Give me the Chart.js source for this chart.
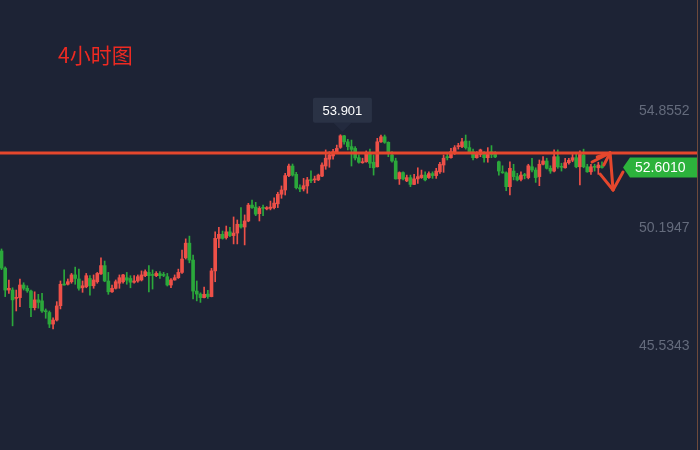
<!DOCTYPE html>
<html><head><meta charset="utf-8">
<script src="https://cdn.jsdelivr.net/npm/chart.js@4.4.1/dist/chart.umd.min.js"></script>
<style>html,body{margin:0;padding:0;background:#1d2335;}canvas{display:block}</style>
</head><body>
<canvas id="c" width="700" height="450"></canvas>
<script>
const titleText = '4小时图';
const yTicks = [45.5343, 50.1947, 54.8552];
const levelLine = 53.18;
const opens = [
49.29,48.61,47.74,47.74,47.41,47.44,47.94,47.81,47.70,47.04,
47.35,47.31,46.91,46.85,46.39,46.55,47.12,47.97,47.97,48.07,
48.34,48.18,47.83,47.87,48.20,47.91,48.07,48.38,48.71,48.10,
47.67,47.81,48.01,48.07,48.23,48.20,48.05,48.10,48.14,48.31,
48.44,48.36,48.31,48.39,48.36,48.27,47.94,48.14,48.23,48.44,
49.02,49.60,48.93,47.70,47.58,47.44,47.58,47.48,48.50,49.79,
49.95,49.82,50.05,49.90,50.00,50.35,50.24,50.48,51.11,51.03,
50.77,51.01,50.96,50.98,51.01,51.16,51.54,51.71,52.28,52.66,
52.33,51.80,51.75,51.87,52.11,52.11,52.11,52.26,52.66,52.93,
53.06,53.19,53.40,53.86,53.62,53.43,53.36,52.99,52.79,52.83,
53.20,52.81,52.63,53.62,53.82,53.60,53.10,52.86,52.15,52.40,
52.07,52.20,51.93,52.15,52.20,52.30,52.20,52.36,52.28,52.43,
52.70,53.03,52.99,53.22,53.43,53.43,53.65,53.39,53.23,52.99,
53.12,53.12,52.99,53.23,53.12,52.83,52.43,52.39,51.84,52.46,
52.24,52.13,52.30,52.20,52.63,52.50,52.24,52.73,52.86,52.57,
52.46,53.03,52.63,52.59,52.79,52.89,52.99,52.63,53.10,52.63,
52.43,52.63,52.59,52.67];
const closes = [
48.61,47.74,47.81,47.35,47.44,47.94,47.81,47.71,47.04,47.35,
47.25,46.91,46.88,46.39,46.55,47.11,47.97,47.94,48.07,48.34,
48.20,47.81,47.91,48.31,47.91,48.14,48.40,48.71,48.10,47.67,
47.81,48.07,48.23,48.34,48.13,48.05,48.10,48.27,48.34,48.47,
48.31,48.32,48.40,48.31,48.32,47.94,48.14,48.23,48.44,48.97,
49.60,48.93,47.70,47.58,47.44,47.57,47.48,48.50,49.79,49.95,
49.79,50.05,49.90,50.00,50.35,50.24,50.48,51.11,51.01,50.75,
50.98,50.98,51.01,51.03,51.19,51.54,51.71,52.28,52.66,52.30,
51.80,51.75,51.88,52.11,52.08,52.13,52.30,52.70,52.97,53.10,
53.23,53.36,53.86,53.62,53.43,53.32,52.98,52.81,52.83,53.20,
52.77,52.59,53.62,53.82,53.60,53.23,52.86,52.15,52.40,52.15,
52.20,51.93,52.15,52.24,52.30,52.11,52.36,52.28,52.46,52.73,
52.97,52.99,53.23,53.39,53.47,53.62,53.39,53.23,52.99,53.12,
53.30,52.99,53.12,53.12,53.02,52.46,52.39,51.84,52.57,52.24,
52.11,52.30,52.28,52.67,52.50,52.20,52.73,52.86,52.57,52.46,
53.03,52.63,52.61,52.79,52.89,52.99,52.63,53.12,52.63,52.43,
52.63,52.61,52.70,52.601];
const highs = [
49.37,48.66,48.14,47.83,47.74,48.18,48.03,47.91,47.74,47.67,
47.57,47.61,46.99,46.91,46.64,47.28,48.10,48.54,48.18,48.40,
48.65,48.57,48.10,48.40,48.31,48.34,48.44,49.02,48.89,48.44,
47.94,48.14,48.34,48.36,48.44,48.31,48.31,48.34,48.50,48.54,
48.71,48.54,48.47,48.47,48.44,48.40,48.20,48.34,48.57,49.33,
49.77,49.88,49.13,48.10,47.63,47.86,47.73,48.60,50.05,50.23,
50.08,50.28,50.23,50.64,50.52,51.01,50.72,51.18,51.31,51.22,
51.05,51.11,51.05,51.27,51.40,51.62,51.87,52.37,52.74,52.74,
52.41,51.91,52.17,52.21,52.47,52.26,52.34,52.79,53.30,53.23,
53.32,53.49,53.901,53.88,53.72,53.69,53.43,53.10,52.97,53.26,
53.33,53.10,53.76,53.89,53.89,53.62,53.23,52.97,52.43,52.43,
52.30,52.30,52.33,52.59,52.50,52.43,52.43,52.43,52.57,52.81,
53.10,53.16,53.36,53.47,53.56,53.76,53.89,53.65,53.33,53.23,
53.33,53.23,53.39,53.47,53.23,52.86,52.67,52.43,52.83,52.73,
52.37,52.43,52.37,52.73,52.97,52.59,52.90,53.03,52.97,52.67,
53.30,53.30,52.77,52.97,52.97,53.12,53.16,53.26,53.33,52.73,
52.73,52.73,52.81,52.83];
const lows = [
48.55,47.48,47.61,46.32,46.91,47.08,47.74,47.65,46.68,46.95,
47.02,46.85,46.62,46.25,46.20,46.51,46.99,47.93,47.94,48.01,
47.97,47.74,47.65,47.83,47.54,47.81,48.01,48.36,48.07,47.57,
47.65,47.78,47.81,48.01,47.97,47.83,48.01,48.05,48.10,48.27,
47.67,47.78,48.27,48.20,48.27,47.90,47.83,48.13,48.20,48.40,
48.97,48.82,47.39,47.31,47.25,47.43,47.41,47.47,48.07,49.42,
49.76,49.76,49.86,49.57,49.57,50.19,49.53,50.45,50.98,50.69,
50.48,50.69,50.92,50.92,50.96,51.01,51.38,51.51,52.24,52.26,
51.75,51.64,51.67,51.58,52.00,52.00,52.08,52.24,52.53,52.61,
52.93,53.16,53.36,53.53,53.30,52.66,52.90,52.77,52.77,52.81,
52.59,52.30,52.62,53.60,53.56,53.03,52.81,52.14,51.93,52.11,
52.04,51.84,51.92,51.97,52.17,52.07,52.17,52.17,52.17,52.37,
52.41,52.90,52.97,53.12,53.33,53.39,53.33,53.16,52.90,52.97,
53.03,52.81,52.81,52.99,52.99,52.30,52.37,51.68,51.51,52.11,
52.07,52.07,52.15,52.15,52.43,52.01,51.88,52.70,52.54,52.37,
52.43,52.57,52.46,52.57,52.73,52.83,52.59,51.91,52.59,52.41,
52.33,52.46,52.33,52.57];
// hand-drawn arrow annotation, in (candle index, price) units
const arrowSegments = [
  [[160.3,52.82],[165.2,53.18]],
  [[165.2,53.18],[161.7,53.02]],
  [[165.2,53.18],[163.5,52.70]],
  [[165.2,53.18],[166.0,51.71]],
  [[166.0,51.71],[162.5,52.34]],
  [[166.0,51.71],[168.7,52.42]]
];

const upColor = '#ee5048', downColor = '#2ba83b';
const idx = opens.map((_, i) => i);
const colors = idx.map(i => closes[i] >= opens[i] ? upColor : downColor);
const bodies = idx.map(i => ({x: i, y: [opens[i], closes[i]]}));
const wicks = idx.map(i => ({x: i, y: [Math.min(lows[i], opens[i], closes[i]), Math.max(highs[i], opens[i], closes[i])]}));

const deco = {
  id: 'deco',
  beforeDraw(chart) {
    const c = chart.ctx;
    c.save(); c.fillStyle = '#1d2335'; c.fillRect(0, 0, chart.width, chart.height); c.restore();
  },
  afterDatasetsDraw(chart) {
    const c = chart.ctx, xs = chart.scales.x, ys = chart.scales.y;
    c.save();
    // title
    c.fillStyle = '#ee2a22';
    c.font = '21px "Noto Sans CJK SC", sans-serif';
    c.textBaseline = 'alphabetic'; c.textAlign = 'left';
    c.fillText(titleText, 58, 63);
    // level line
    const ly = ys.getPixelForValue(levelLine);
    c.strokeStyle = '#e5472d'; c.lineWidth = 3;
    c.beginPath(); c.moveTo(0, ly); c.lineTo(697, ly); c.stroke();
    // right border
    c.strokeStyle = '#6e4a3c'; c.lineWidth = 1;
    c.beginPath(); c.moveTo(697.5, 0); c.lineTo(697.5, chart.height); c.stroke();
    // arrows
    c.strokeStyle = '#e5472d'; c.lineWidth = 3; c.lineCap = 'round';
    arrowSegments.forEach(s => {
      c.beginPath();
      c.moveTo(xs.getPixelForValue(s[0][0]), ys.getPixelForValue(s[0][1]));
      c.lineTo(xs.getPixelForValue(s[1][0]), ys.getPixelForValue(s[1][1]));
      c.stroke();
    });
    // max high tooltip
    let mi = 0; highs.forEach((h, i) => { if (h > highs[mi]) mi = i; });
    const hx = xs.getPixelForValue(mi) + 2, hy = ys.getPixelForValue(highs[mi]);
    const bw = 59, bh = 25, bb = hy - 12;
    c.fillStyle = 'rgba(50,58,80,0.35)';
    c.beginPath(); c.moveTo(hx - 9, bb); c.lineTo(hx + 9, bb); c.lineTo(hx, bb + 9); c.closePath(); c.fill();
    c.fillStyle = '#2a3245';
    c.beginPath(); c.roundRect(hx - bw / 2, bb - bh, bw, bh, 2); c.fill();
    c.fillStyle = '#ffffff'; c.font = '13px "Liberation Sans", Arial, sans-serif';
    c.textAlign = 'center'; c.textBaseline = 'middle';
    c.fillText(highs[mi].toFixed(3), hx, bb - bh / 2 + 1);
    // last price label
    const last = closes[closes.length - 1];
    const py = ys.getPixelForValue(last);
    c.fillStyle = '#2cb23c';
    c.beginPath(); c.moveTo(623, py); c.lineTo(630, py - 10); c.lineTo(697, py - 10);
    c.lineTo(697, py + 10); c.lineTo(630, py + 10); c.closePath(); c.fill();
    c.fillStyle = '#ffffff'; c.font = '14px "Liberation Sans", Arial, sans-serif';
    c.textAlign = 'left'; c.textBaseline = 'middle';
    c.fillText(last.toFixed(4), 635, py + 1);
    c.restore();
  }
};

new Chart(document.getElementById('c'), {
  type: 'bar',
  data: {
    datasets: [
      {label: 'wick', data: wicks, backgroundColor: colors, barThickness: 1, grouped: false, order: 2},
      {label: 'body', data: bodies, backgroundColor: colors, barThickness: 3, minBarLength: 1, grouped: false, order: 1}
    ]
  },
  options: {
    responsive: false, animation: false, devicePixelRatio: 1,
    layout: {padding: 0},
    plugins: {legend: {display: false}, tooltip: {enabled: false}, title: {display: false}},
    scales: {
      x: {type: 'linear', display: false, offset: false, min: -0.41, max: 172.5},
      y: {
        type: 'linear', position: 'right', min: 41.395, max: 59.246,
        afterFit(s) { s.width = 63; s.paddingTop = 0; s.paddingBottom = 0; },
        afterBuildTicks(s) { s.ticks = yTicks.map(v => ({value: v})); },
        grid: {display: false, drawTicks: false},
        border: {display: false},
        ticks: {color: '#646b7c', padding: 2, font: {size: 14, family: '"Liberation Sans", Arial, sans-serif'},
          callback: v => v.toFixed(4)}
      }
    }
  },
  plugins: [deco]
});
</script>
</body></html>
